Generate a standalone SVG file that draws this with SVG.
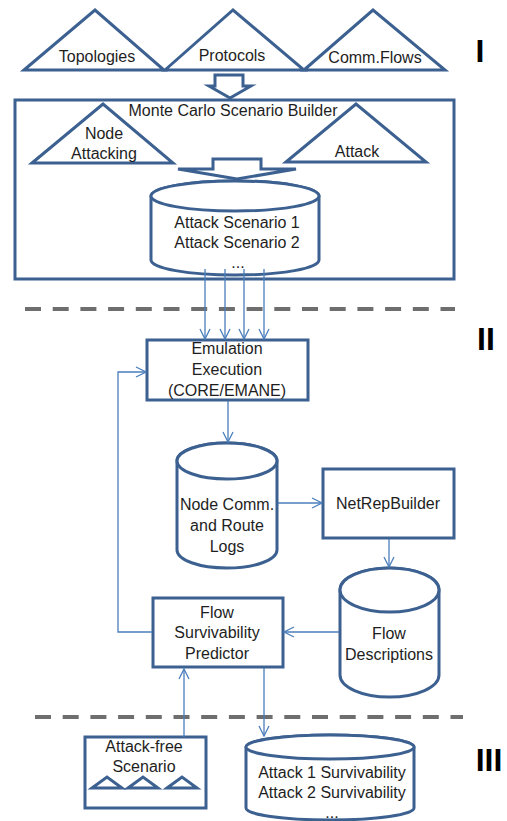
<svg xmlns="http://www.w3.org/2000/svg" width="507" height="821" viewBox="0 0 507 821">
  <defs>
    <style>
      .shape { fill: #ffffff; stroke: #3c6191; stroke-width: 3; stroke-linejoin: miter; }
      .tri { fill: none; stroke: #3c6191; stroke-width: 3; stroke-linejoin: miter; }
      .conn { fill: none; stroke: #4a7ebb; stroke-width: 1.3; }
      .sep { fill: none; stroke: #6e6e6e; stroke-width: 4; stroke-dasharray: 16 11.7; }
      .lbl { font-family: "Liberation Sans", Arial, sans-serif; font-size: 16px; fill: #1e1e1e; text-anchor: middle; }
      .tier { font-family: "Liberation Sans", Arial, sans-serif; font-size: 32px; font-weight: bold; fill: #000000; text-anchor: middle; }
    </style>
    <marker id="open" viewBox="0 0 12 12" refX="11" refY="6" markerWidth="12" markerHeight="12" markerUnits="userSpaceOnUse" orient="auto">
      <path d="M1,1 L11,6 L1,11" fill="none" stroke="#4a7ebb" stroke-width="1.3"/>
    </marker>
  </defs>

  <!-- tier separators -->
  <g id="separators">
    <line class="sep" x1="25" y1="309" x2="455" y2="309"/>
    <line class="sep" x1="35" y1="717" x2="463" y2="717"/>
  </g>

  <!-- tier labels -->
  <g id="tiers">
    <text class="tier" x="480" y="62">I</text>
    <text class="tier" x="486" y="350">II</text>
    <text class="tier" x="489" y="771">III</text>
  </g>

  <!-- input triangles -->
  <g id="topologies">
    <polygon class="tri" points="24,70 95,10 164,70"/>
    <text class="lbl" x="97" y="62">Topologies</text>
  </g>
  <g id="protocols">
    <polygon class="tri" points="165,70 233,10 304,70"/>
    <text class="lbl" x="232" y="61">Protocols</text>
  </g>
  <g id="comm-flows">
    <polygon class="tri" points="304,70 373,10 445,70"/>
    <text class="lbl" x="375" y="63">Comm.Flows</text>
  </g>

  <!-- hollow arrow into the builder -->
  <g id="input-arrow">
    <polygon class="shape" points="215,75 243,75 243,86 251,86 230,98 209,86 215,86"/>
  </g>

  <!-- Monte Carlo scenario builder -->
  <g id="scenario-builder">
    <rect class="shape" x="15" y="100" width="439" height="179"/>
    <text class="lbl" x="233" y="116">Monte Carlo Scenario Builder</text>
  </g>
  <g id="node-attacking">
    <polygon class="tri" points="32,163 103,104 173,163"/>
    <text class="lbl" x="104" y="139">Node</text>
    <text class="lbl" x="104" y="159">Attacking</text>
  </g>
  <g id="attack">
    <polygon class="tri" points="286,162 356,104 426,162"/>
    <text class="lbl" x="357" y="157">Attack</text>
  </g>
  <g id="builder-arrow">
    <polygon class="shape" points="213,159 261,159 261,169 296,169 237,179 178,169 213,169"/>
  </g>
  <g id="attack-scenarios">
    <path class="shape" d="M151,196 L151,260 A84,15 0 0 0 319,260 L319,196 A84,15 0 0 0 151,196 Z"/>
    <ellipse class="shape" cx="235" cy="196" rx="84" ry="15"/>
    <text class="lbl" x="237" y="228">Attack Scenario 1</text>
    <text class="lbl" x="237" y="248">Attack Scenario 2</text>
    <text class="lbl" x="238" y="268">...</text>
  </g>

  <!-- emulation -->
  <g id="emulation">
    <rect class="shape" x="147" y="340" width="161" height="60"/>
    <text class="lbl" x="227" y="354">Emulation</text>
    <text class="lbl" x="227" y="375">Execution</text>
    <text class="lbl" x="227" y="396">(CORE/EMANE)</text>
  </g>

  <g id="logs">
    <path class="shape" d="M177,461 L177,550 A50,18 0 0 0 277,550 L277,461 A50,18 0 0 0 177,461 Z"/>
    <ellipse class="shape" cx="227" cy="461" rx="50" ry="18"/>
    <text class="lbl" x="227" y="510">Node Comm.</text>
    <text class="lbl" x="227" y="531">and Route</text>
    <text class="lbl" x="227" y="552">Logs</text>
  </g>

  <g id="netrepbuilder">
    <rect class="shape" x="323" y="469" width="131" height="69"/>
    <text class="lbl" x="388" y="509">NetRepBuilder</text>
  </g>

  <g id="flow-descriptions">
    <path class="shape" d="M340,590 L340,675 A49.5,22 0 0 0 439,675 L439,590 A49.5,22 0 0 0 340,590 Z"/>
    <ellipse class="shape" cx="389.5" cy="590" rx="49.5" ry="22"/>
    <text class="lbl" x="389" y="639">Flow</text>
    <text class="lbl" x="389" y="660">Descriptions</text>
  </g>

  <g id="predictor">
    <rect class="shape" x="153" y="598" width="130" height="69"/>
    <text class="lbl" x="217" y="618">Flow</text>
    <text class="lbl" x="217" y="638">Survivability</text>
    <text class="lbl" x="217" y="659">Predictor</text>
  </g>

  <!-- tier III -->
  <g id="attack-free">
    <rect class="shape" x="85" y="737" width="121" height="71"/>
    <text class="lbl" x="144" y="752">Attack-free</text>
    <text class="lbl" x="144" y="772">Scenario</text>
    <polygon class="tri" points="92,788 107,777 122,788"/>
    <polygon class="tri" points="128,788 143,777 158,788"/>
    <polygon class="tri" points="167,788 182,777 197,788"/>
  </g>

  <g id="survivability">
    <path class="shape" d="M246,747 L246,808 A84,12 0 0 0 414,808 L414,747 A84,12 0 0 0 246,747 Z"/>
    <ellipse class="shape" cx="330" cy="747" rx="84" ry="12"/>
    <text class="lbl" x="332" y="778">Attack 1 Survivability</text>
    <text class="lbl" x="332" y="798">Attack 2 Survivability</text>
    <text class="lbl" x="332" y="818">...</text>
  </g>

  <!-- connectors -->
  <g id="connectors">
    <line class="conn" x1="205" y1="269" x2="205" y2="339" marker-end="url(#open)"/>
    <line class="conn" x1="225" y1="269" x2="225" y2="339" marker-end="url(#open)"/>
    <line class="conn" x1="244" y1="269" x2="244" y2="339" marker-end="url(#open)"/>
    <line class="conn" x1="264" y1="269" x2="264" y2="339" marker-end="url(#open)"/>
    <line class="conn" x1="228" y1="401" x2="228" y2="442" marker-end="url(#open)"/>
    <line class="conn" x1="278" y1="503" x2="322" y2="503" marker-end="url(#open)"/>
    <line class="conn" x1="389" y1="539" x2="389" y2="567" marker-end="url(#open)"/>
    <line class="conn" x1="339" y1="632" x2="284" y2="632" marker-end="url(#open)"/>
    <polyline class="conn" points="152,632 118,632 118,372 146,372" marker-end="url(#open)"/>
    <line class="conn" x1="264" y1="668" x2="264" y2="736" marker-end="url(#open)"/>
    <line class="conn" x1="184" y1="737" x2="184" y2="669" marker-end="url(#open)"/>
  </g>
</svg>
